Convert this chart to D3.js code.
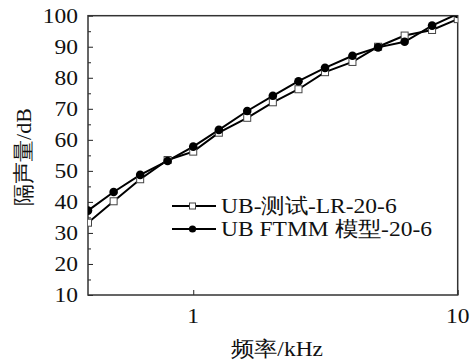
<!DOCTYPE html>
<html><head><meta charset="utf-8">
<script src="https://cdn.jsdelivr.net/npm/d3@7"></script>
<style>
body{margin:0;background:#fff;}
</style></head>
<body><svg id="c" width="474" height="362"></svg>
<script>
const freqs = [0.4, 0.5, 0.63, 0.8, 1, 1.25, 1.6, 2, 2.5, 3.15, 4, 5, 6.3, 8, 10];
const testValues = [33.3, 40.2, 47.3, 53.5, 56.2, 62.3, 67.1, 72.1, 76.3, 81.8, 85.1, 90.0, 93.6, 95.4, 98.9];
const modelValues = [37.2, 43.2, 48.7, 53.2, 57.8, 63.2, 69.3, 74.2, 78.9, 83.2, 87.1, 89.8, 91.6, 96.8, 100.6];
const seriesNames = ["UB-测试-LR-20-6", "UB FTMM 模型-20-6"];
const yTicks = [10, 20, 30, 40, 50, 60, 70, 80, 90, 100];
const yMinorTicks = [15, 25, 35, 45, 55, 65, 75, 85, 95];
const xTicks = [1, 10];
const xTitle = "频率/kHz";
const yTitle = "隔声量/dB";

const FONT = "Liberation Serif";
const SX = 1.12;
const svg = d3.select("#c");
const L = 88, R = 457.7, T = 15.7, B = 295;
const x = d3.scaleLog().domain([0.4, 10]).range([L, R]);
const y = d3.scaleLinear().domain([10, 100]).range([B, T]);

svg.append("clipPath").attr("id","clip").append("rect")
  .attr("x", L).attr("y", T).attr("width", R - L).attr("height", B - T);

const fs = 21;
const yAx = svg.append("g").attr("transform", `translate(${L},0)`)
  .call(d3.axisRight(y).tickValues(yTicks).tickSize(5).tickFormat(""));
yAx.select(".domain").remove();
const yAxm = svg.append("g").attr("transform", `translate(${L},0)`)
  .call(d3.axisRight(y).tickValues(yMinorTicks).tickSize(3).tickFormat(""));
yAxm.select(".domain").remove();
svg.selectAll("g line").attr("stroke", "#222").attr("stroke-width", 1);

const xAx = svg.append("g").attr("transform", `translate(0,${B})`)
  .call(d3.axisTop(x).tickValues(xTicks).tickSize(5).tickFormat(""));
xAx.select(".domain").remove();
xAx.selectAll("line").attr("stroke", "#222").attr("stroke-width", 1);

function styled(sel) {
  return sel.style("font-family", FONT).attr("font-size", fs).attr("fill", "#111");
}
// tick labels
styled(svg.append("g").selectAll("text").data(yTicks).join("text")
  .attr("transform", d => `translate(${L - 10},${y(d)}) scale(${SX},1)`).attr("dy", "0.35em")
  .attr("text-anchor", "end").text(d => d));
styled(svg.append("g").selectAll("text").data(xTicks).join("text")
  .attr("transform", d => `translate(${x(d)},323) scale(${SX},1)`)
  .attr("text-anchor", "middle").text(d => d));

// titles
styled(svg.append("text").attr("transform", `translate(277,356) scale(${SX},1)`)
  .attr("text-anchor", "middle").text(xTitle));
styled(svg.append("text").attr("transform", "translate(31,157) rotate(-90)")
  .attr("text-anchor", "middle").text(yTitle)).attr("font-size", 22);

// frame
svg.append("rect").attr("x", L).attr("y", T).attr("width", R - L).attr("height", B - T)
  .attr("fill", "none").attr("stroke", "#333").attr("stroke-width", 1.5);

const plot = svg.append("g").attr("clip-path", "url(#clip)");
const line = d3.line().x(d => x(d[0])).y(d => y(d[1]));
const testData = freqs.map((f, i) => [f, testValues[i]]);
const modelData = freqs.map((f, i) => [f, modelValues[i]]);

plot.append("path").datum(testData).attr("d", line).attr("fill", "none").attr("stroke", "#000").attr("stroke-width", 2);
plot.append("path").datum(modelData).attr("d", line).attr("fill", "none").attr("stroke", "#000").attr("stroke-width", 2);

plot.selectAll("rect.sq").data(testData).join("rect").attr("class", "sq")
  .attr("x", d => x(d[0]) - 3.5).attr("y", d => y(d[1]) - 3.5).attr("width", 7).attr("height", 7)
  .attr("fill", "#fff").attr("stroke", "#444").attr("stroke-width", 1);
plot.selectAll("circle.ci").data(modelData).join("circle").attr("class", "ci")
  .attr("cx", d => x(d[0])).attr("cy", d => y(d[1])).attr("r", 4.3)
  .attr("fill", "#000");

// legend
const lg = svg.append("g");
const rows = [206, 229];
rows.forEach((ry, i) => {
  lg.append("line").attr("x1", 172).attr("x2", 216).attr("y1", ry).attr("y2", ry)
    .attr("stroke", "#000").attr("stroke-width", 2);
  if (i === 0) {
    lg.append("rect").attr("x", 189.5).attr("y", ry - 3).attr("width", 6).attr("height", 6)
      .attr("fill", "#fff").attr("stroke", "#444").attr("stroke-width", 1);
  } else {
    lg.append("circle").attr("cx", 192.5).attr("cy", ry).attr("r", 3.6).attr("fill", "#000");
  }
  styled(lg.append("text").attr("transform", `translate(221,${ry}) scale(${SX},1)`)
    .attr("dy", "0.35em").text(seriesNames[i]));
});
</script></body></html>
